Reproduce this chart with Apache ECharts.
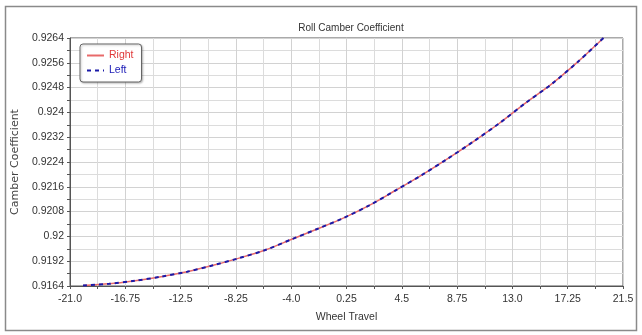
<!DOCTYPE html>
<html>
<head>
<meta charset="utf-8">
<script src="https://cdn.jsdelivr.net/npm/echarts@6/dist/echarts.min.js"></script>
<style>
html,body{margin:0;padding:0;background:#fff;}
#c{width:642px;height:335px;}
</style>
</head>
<body>
<div id="c"></div>
<script>
// ---- data ----
var wheelTravel = [-20, -18, -16, -14, -12, -10, -8, -6, -4, -2, 0, 2, 4, 6, 8, 10, 12, 14, 16, 18, 20];
var rightValues = [0.91842, 0.91847, 0.91857, 0.91870, 0.91886, 0.91907, 0.91930, 0.91956, 0.91990, 0.92024, 0.92059,
                   0.92100, 0.92148, 0.92197, 0.92250, 0.92306, 0.92365, 0.92430, 0.92491, 0.92562, 0.92640];
var leftValues  = [0.91842, 0.91847, 0.91857, 0.91870, 0.91886, 0.91907, 0.91930, 0.91956, 0.91990, 0.92024, 0.92059,
                   0.92100, 0.92148, 0.92197, 0.92250, 0.92306, 0.92365, 0.92430, 0.92491, 0.92562, 0.92640];
var xTickLabels = ['-21.0', '-16.75', '-12.5', '-8.25', '-4.0', '0.25', '4.5', '8.75', '13.0', '17.25', '21.5'];
var yTickLabels = ['0.9164', '0.9192', '0.92', '0.9208', '0.9216', '0.9224', '0.9232', '0.924', '0.9248', '0.9256', '0.9264'];
var X_MIN = -21, X_MAX = 21.5, X_STEP = 4.25;
var Y_MIN = 0.9184, Y_MAX = 0.9264, Y_STEP = 0.0008;

var FONT = "'Liberation Sans', Arial, sans-serif";

function pairs(vals) {
  return wheelTravel.map(function (x, i) { return [x - X_MIN, vals[i]]; });
}

var chart = echarts.init(document.getElementById('c'), null, {renderer: 'canvas'});
chart.setOption({
  animation: false,
  backgroundColor: '#fff',
  title: {
    text: 'Roll Camber Coefficient',
    left: 346, top: 18, textAlign: 'center',
    textStyle: {fontFamily: FONT, fontSize: 10, fontWeight: 'normal', color: '#333'}
  },
  graphic: [{
    type: 'rect', silent: true,
    shape: {x: 5.5, y: 6.5, width: 631, height: 324},
    style: {fill: 'none', stroke: '#8a8a8a', lineWidth: 1.5}
  }],
  legend: {
    orient: 'vertical', left: 80, top: 44,
    padding: [6, 8, 6, 6], itemGap: 4, itemWidth: 17, itemHeight: 10,
    backgroundColor: '#fff', borderColor: '#666', borderWidth: 1, borderRadius: 3,
    shadowColor: 'rgba(0,0,0,0.25)', shadowBlur: 2, shadowOffsetX: 1, shadowOffsetY: 1,
    itemStyle: {opacity: 0},
    textStyle: {fontFamily: FONT, fontSize: 10.5},
    data: [
      {name: 'Right', textStyle: {color: '#e03838'}},
      {name: 'Left', textStyle: {color: '#2020b8'}}
    ]
  },
  grid: {left: 70, right: 19, top: 38, bottom: 49, show: true, borderColor: '#555', borderWidth: 1, backgroundColor: '#fff'},
  xAxis: {
    type: 'value', min: 0, max: X_MAX - X_MIN, interval: X_STEP,
    name: 'Wheel Travel', nameLocation: 'middle', nameGap: 26,
    nameTextStyle: {fontFamily: FONT, fontSize: 10.5, color: '#333'},
    axisLine: {show: true, lineStyle: {color: '#555'}},
    axisTick: {show: true, length: 3, lineStyle: {color: '#555'}},
    minorTick: {show: true, splitNumber: 2, length: 3, lineStyle: {color: '#555'}},
    axisLabel: {fontFamily: FONT, fontSize: 10.5, color: '#333', margin: 8,
      formatter: function (v, i) { return xTickLabels[i] !== undefined ? xTickLabels[i] : ''; }},
    splitLine: {show: true, lineStyle: {color: '#d2d2d2'}},
    minorSplitLine: {show: true, lineStyle: {color: '#dcdcdc'}}
  },
  yAxis: {
    type: 'value', min: Y_MIN, max: Y_MAX, interval: Y_STEP,
    name: 'Camber Coefficient', nameLocation: 'middle', nameGap: 43,
    nameTextStyle: {fontFamily: "'DejaVu Sans', sans-serif", fontSize: 11, color: '#444'},
    axisLine: {show: true, lineStyle: {color: '#555'}},
    axisTick: {show: true, length: 3, lineStyle: {color: '#555'}},
    minorTick: {show: true, splitNumber: 2, length: 3, lineStyle: {color: '#555'}},
    axisLabel: {fontFamily: FONT, fontSize: 10.5, color: '#333', margin: 6,
      formatter: function (v, i) { return yTickLabels[i] !== undefined ? yTickLabels[i] : ''; }},
    splitLine: {show: true, lineStyle: {color: '#d2d2d2'}},
    minorSplitLine: {show: true, lineStyle: {color: '#dcdcdc'}}
  },
  series: [
    {name: 'Right', type: 'line', data: pairs(rightValues), smooth: 0.3, symbol: 'none',
      color: '#e86a6a', lineStyle: {color: '#e86a6a', width: 1.5}},
    {name: 'Left', type: 'line', data: pairs(leftValues), smooth: 0.3, symbol: 'none',
      color: '#1a1aa8', lineStyle: {color: '#1a1aa8', width: 2, type: [4, 4]}}
  ]
});
</script>
</body>
</html>
